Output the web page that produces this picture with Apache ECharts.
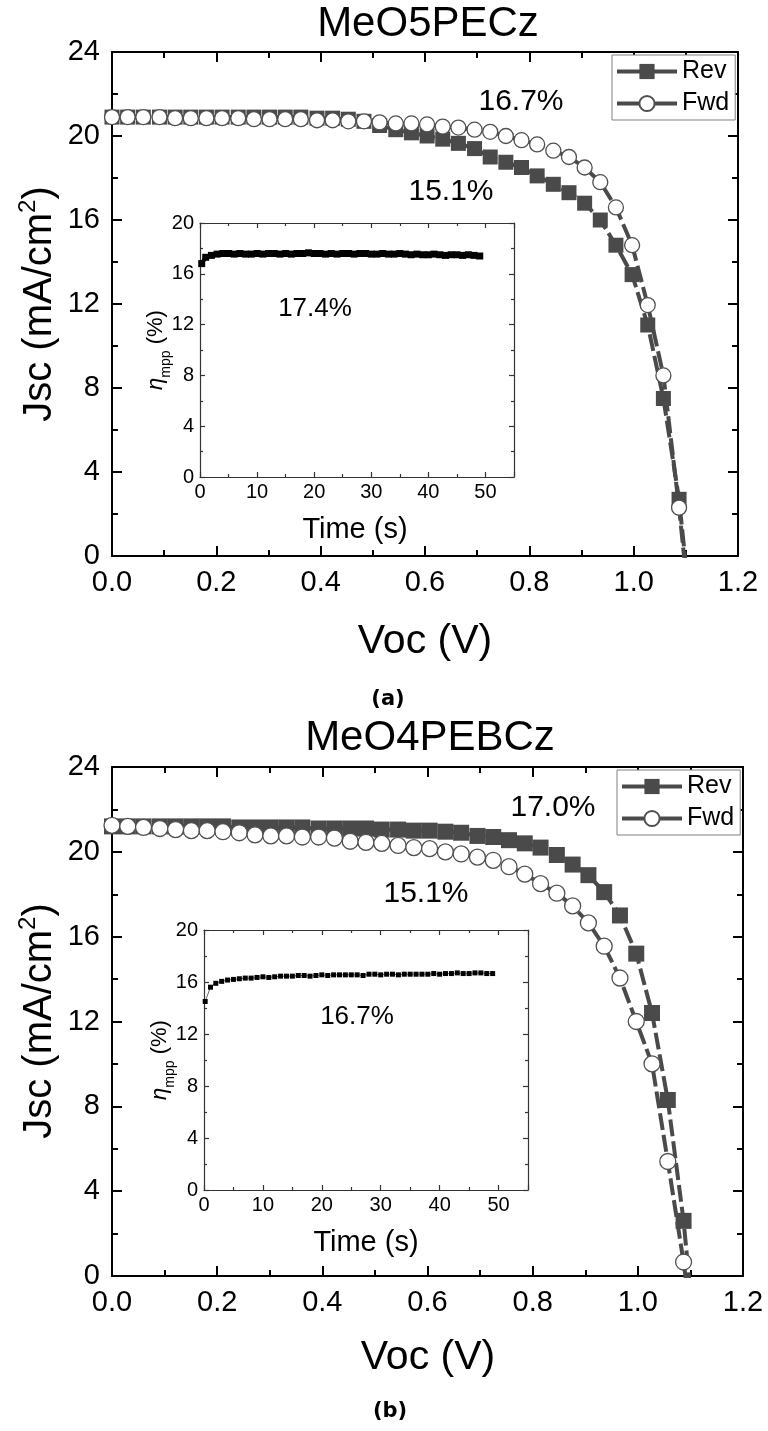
<!DOCTYPE html>
<html><head><meta charset="utf-8">
<script src="https://cdn.jsdelivr.net/npm/echarts@6/dist/echarts.min.js"></script>
<style>html,body{margin:0;padding:0;background:#fff}#c{width:768px;height:1431px}</style>
</head><body><div id="c"></div>
<script>
// ---------- DATA ----------
const voltage = [0.000, 0.030, 0.060, 0.091, 0.121, 0.151, 0.181, 0.211, 0.242, 0.272, 0.302, 0.332, 0.362, 0.393, 0.423, 0.453, 0.483, 0.513, 0.544, 0.574, 0.604, 0.634, 0.664, 0.695, 0.725, 0.755, 0.785, 0.815, 0.846, 0.876, 0.906, 0.936, 0.966, 0.997, 1.027, 1.057, 1.087, 1.117];
// (a) MeO5PECz
const revA = [20.9,20.9,20.9,20.9,20.9,20.9,20.9,20.9,20.9,20.9,20.9,20.9,20.9,20.85,20.85,20.8,20.7,20.5,20.3,20.15,20.0,19.85,19.65,19.4,19.0,18.75,18.5,18.1,17.7,17.3,16.8,16.0,14.8,13.4,11.0,7.5,2.7,-4.5];
const fwdA = [20.9,20.9,20.9,20.9,20.85,20.85,20.85,20.85,20.85,20.8,20.8,20.8,20.8,20.75,20.75,20.7,20.7,20.65,20.6,20.6,20.55,20.45,20.4,20.3,20.2,20.0,19.8,19.6,19.3,19.0,18.5,17.8,16.6,14.8,11.95,8.6,2.3,-4.9];
// (b) MeO4PEBCz
const revB = [21.2,21.2,21.2,21.2,21.2,21.2,21.2,21.2,21.15,21.15,21.15,21.15,21.15,21.1,21.1,21.1,21.1,21.05,21.05,21.0,21.0,20.95,20.9,20.75,20.7,20.55,20.4,20.2,19.85,19.4,18.9,18.1,17.0,15.2,12.4,8.3,2.6,-5.2];
const fwdB = [21.25,21.2,21.15,21.1,21.05,21.0,21.0,20.95,20.9,20.8,20.75,20.75,20.7,20.7,20.65,20.5,20.45,20.4,20.3,20.2,20.15,20.0,19.9,19.75,19.6,19.3,18.95,18.5,18.05,17.45,16.65,15.55,14.05,12.0,10.0,5.4,0.66,-5.0];
// insets: MPP tracking
const timeA = [0.3,1,2,3,4,5,6,7,8,9,10,11,12,13,14,15,16,17,18,19,20,21,22,23,24,25,26,27,28,29,30,31,32,33,34,35,36,37,38,39,40,41,42,43,44,45,46,47,48,49];
const etaA = [16.8,17.3,17.45,17.55,17.6,17.6,17.55,17.6,17.55,17.55,17.6,17.55,17.6,17.6,17.55,17.6,17.55,17.6,17.6,17.65,17.6,17.6,17.55,17.6,17.55,17.6,17.6,17.55,17.6,17.6,17.55,17.55,17.6,17.55,17.55,17.6,17.55,17.5,17.55,17.5,17.5,17.55,17.5,17.45,17.5,17.5,17.45,17.5,17.45,17.4];
const timeB = [0.2,1.1,2,3,4,5,6,7,8,9,10,11,12,13,14,15,16,17,18,19,20,21,22,23,24,25,26,27,28,29,30,31,32,33,34,35,36,37,38,39,40,41,42,43,44,45,46,47,48,49];
const etaB = [14.5,15.6,15.9,16.05,16.15,16.2,16.25,16.3,16.3,16.35,16.4,16.35,16.4,16.45,16.45,16.45,16.5,16.5,16.45,16.5,16.55,16.5,16.55,16.55,16.55,16.55,16.55,16.5,16.6,16.6,16.55,16.6,16.6,16.55,16.6,16.6,16.6,16.6,16.6,16.65,16.6,16.65,16.65,16.7,16.65,16.65,16.7,16.7,16.65,16.65];
const xTicksMain = {min: 0, max: 1.2, interval: 0.2};
const yTicksMain = {min: 0, max: 24, interval: 4};
const xTicksInset = {min: 0, max: 55, interval: 10};
const yTicksInset = {min: 0, max: 20, interval: 4};
const titles = ['MeO5PECz', 'MeO4PEBCz'];
const captions = ['(a)', '(b)'];
const pceLabels = {a: ['16.7%', '15.1%', '17.4%'], b: ['17.0%', '15.1%', '16.7%']};

// ---------- STYLE ----------
const FONT = "'Liberation Sans', Arial, Helvetica, sans-serif";
const zip = (xs, ys) => xs.map((x, i) => [x, ys[i]]);

function axis(kind, grid, pos, ticks, main, showLabel, fmt) {
  return {
    type: 'value', gridIndex: grid, position: pos,
    min: ticks.min, max: ticks.max, interval: ticks.interval,
    axisLine: {show: true, onZero: false, lineStyle: {color: main ? '#000' : '#333', width: main ? 2 : 1.2}},
    axisTick: {show: true, inside: true, length: main ? 10 : 5, lineStyle: {color: main ? '#000' : '#333', width: main ? 2 : 1.2}},
    minorTick: {show: true, splitNumber: 2, length: main ? 6 : 3, lineStyle: {color: main ? '#000' : '#333', width: main ? 2 : 1.2}},
    splitLine: {show: false},
    axisLabel: {show: showLabel, fontFamily: FONT, fontSize: main ? 29 : 20, color: '#000',
      margin: main ? 12 : (kind === 'x' ? 5 : 6), showMaxLabel: true, showMinLabel: true, formatter: fmt}
  };
}
const f1 = v => v.toFixed(1);
const f0 = v => String(Math.round(v));

const xAxis = [
  axis('x', 0, 'bottom', xTicksMain, true, true, f1),
  axis('x', 0, 'top', xTicksMain, true, false, f1),
  axis('x', 1, 'bottom', xTicksMain, true, true, f1),
  axis('x', 1, 'top', xTicksMain, true, false, f1),
  axis('x', 2, 'bottom', xTicksInset, false, true, f0),
  axis('x', 2, 'top', xTicksInset, false, false, f0),
  axis('x', 3, 'bottom', xTicksInset, false, true, f0),
  axis('x', 3, 'top', xTicksInset, false, false, f0)
];
const yAxis = [
  axis('y', 0, 'left', yTicksMain, true, true, f0),
  axis('y', 0, 'right', yTicksMain, true, false, f0),
  axis('y', 1, 'left', yTicksMain, true, true, f0),
  axis('y', 1, 'right', yTicksMain, true, false, f0),
  axis('y', 2, 'left', yTicksInset, false, true, f0),
  axis('y', 2, 'right', yTicksInset, false, false, f0),
  axis('y', 3, 'left', yTicksInset, false, true, f0),
  axis('y', 3, 'right', yTicksInset, false, false, f0)
];
xAxis[4].axisLabel.showMaxLabel = false; xAxis[6].axisLabel.showMaxLabel = false;

const GRAY = '#4a4a4a';
const lineSt = {color: GRAY, width: 4, type: [17, 5]};
function revSeries(data, xi, size) {
  return {name: 'Rev', type: 'line', xAxisIndex: xi, yAxisIndex: xi, data: data,
    symbol: 'rect', symbolSize: size, showAllSymbol: true, lineStyle: lineSt,
    itemStyle: {color: GRAY, borderWidth: 0}, clip: true, z: 3};
}
function fwdSeries(data, xi, size) {
  return {name: 'Fwd', type: 'line', xAxisIndex: xi, yAxisIndex: xi, data: data,
    symbol: 'circle', symbolSize: size, showAllSymbol: true, lineStyle: lineSt,
    itemStyle: {color: '#fff', borderColor: '#505050', borderWidth: 1.3}, clip: true, z: 4};
}

const legendBase = {
  orient: 'vertical', data: ['Rev', 'Fwd'], itemWidth: 60, itemHeight: 19, itemGap: 7,
  padding: [4, 6, 4, 3], borderColor: '#808080', borderWidth: 1, backgroundColor: '#fff',
  lineStyle: {type: 'solid', width: 4},
  textStyle: {fontFamily: FONT, fontSize: 25, color: '#000'}, selectedMode: false
};

function txt(x, y, text, size, family, weight) {
  return {type: 'text', x: x, y: y, z: 100,
    style: {text: text, fontFamily: family || FONT, fontSize: size, fontWeight: weight || 'normal', fill: '#000',
      align: 'center', verticalAlign: 'middle', textAlign: 'center', textVerticalAlign: 'middle'}};
}
function jscLabel(x, y) {
  return {type: 'text', x: x, y: y, rotation: Math.PI / 2, z: 100,
    style: {text: '{m|Jsc (mA/cm}{s|2}{m|)}', fill: '#000', align: 'center', verticalAlign: 'middle',
      textAlign: 'center', textVerticalAlign: 'middle',
      rich: {m: {fontFamily: FONT, fontSize: 40, lineHeight: 44, verticalAlign: 'bottom', fill: '#000'},
             s: {fontFamily: FONT, fontSize: 24, lineHeight: 24, verticalAlign: 'top', fill: '#000'}}}};
}
function etaLabel(x, y) {
  return {type: 'text', x: x, y: y, rotation: Math.PI / 2, z: 100,
    style: {text: '{e|η}{s|mpp}{m| (%)}', fill: '#000', align: 'center', verticalAlign: 'middle',
      textAlign: 'center', textVerticalAlign: 'middle',
      rich: {e: {fontFamily: FONT, fontSize: 22, fontStyle: 'italic', lineHeight: 26, verticalAlign: 'top', fill: '#000'},
             s: {fontFamily: FONT, fontSize: 14, lineHeight: 14, padding: [14, 0, 0, 0], verticalAlign: 'top', fill: '#000'},
             m: {fontFamily: FONT, fontSize: 22, lineHeight: 26, verticalAlign: 'top', fill: '#000'}}}};
}
const CAPFONT = "'DejaVu Sans', Verdana, sans-serif";

const option = {
  backgroundColor: '#fff',
  animation: false,
  grid: [
    {left: 112, top: 52, width: 626, height: 504},
    {left: 112, top: 767, width: 631, height: 509},
    {left: 200, top: 223, width: 314, height: 254},
    {left: 204, top: 930, width: 324, height: 260}
  ],
  xAxis: xAxis,
  yAxis: yAxis,
  legend: [
    Object.assign({}, legendBase, {left: 612, top: 55}),
    Object.assign({}, legendBase, {left: 617, top: 770})
  ],
  series: [
    revSeries(zip(voltage, revA), 0, 15),
    fwdSeries(zip(voltage, fwdA), 0, 15),
    revSeries(zip(voltage, revB), 2, 16),
    fwdSeries(zip(voltage, fwdB), 2, 16),
    {name: 'MPP-a', type: 'line', xAxisIndex: 4, yAxisIndex: 4, data: zip(timeA, etaA),
      symbol: 'rect', symbolSize: 7, showAllSymbol: true,
      lineStyle: {color: '#000', width: 4}, itemStyle: {color: '#000'}},
    {name: 'MPP-b', type: 'line', xAxisIndex: 6, yAxisIndex: 6, data: zip(timeB, etaB),
      symbol: 'rect', symbolSize: 5, showAllSymbol: true,
      lineStyle: {color: '#000', width: 0.6}, itemStyle: {color: '#000'}}
  ],
  graphic: [
    txt(428, 24, titles[0], 42),
    txt(430, 738, titles[1], 42),
    jscLabel(38, 304),
    jscLabel(38, 1021),
    txt(425, 642, 'Voc (V)', 41),
    txt(428, 1358, 'Voc (V)', 41),
    txt(388, 700, captions[0], 21, CAPFONT, 'bold'),
    txt(390, 1412, captions[1], 21, CAPFONT, 'bold'),
    txt(521, 102, pceLabels.a[0], 30),
    txt(451, 192, pceLabels.a[1], 30),
    txt(315, 309, pceLabels.a[2], 26),
    txt(553, 808, pceLabels.b[0], 30),
    txt(426, 894, pceLabels.b[1], 30),
    txt(357, 1017, pceLabels.b[2], 26),
    etaLabel(158, 350),
    etaLabel(162, 1060),
    txt(355, 530, 'Time (s)', 29),
    txt(366, 1243, 'Time (s)', 29)
  ]
};
const chart = echarts.init(document.getElementById('c'), null, {renderer: 'canvas', width: 768, height: 1431});
chart.setOption(option);
</script></body></html>
